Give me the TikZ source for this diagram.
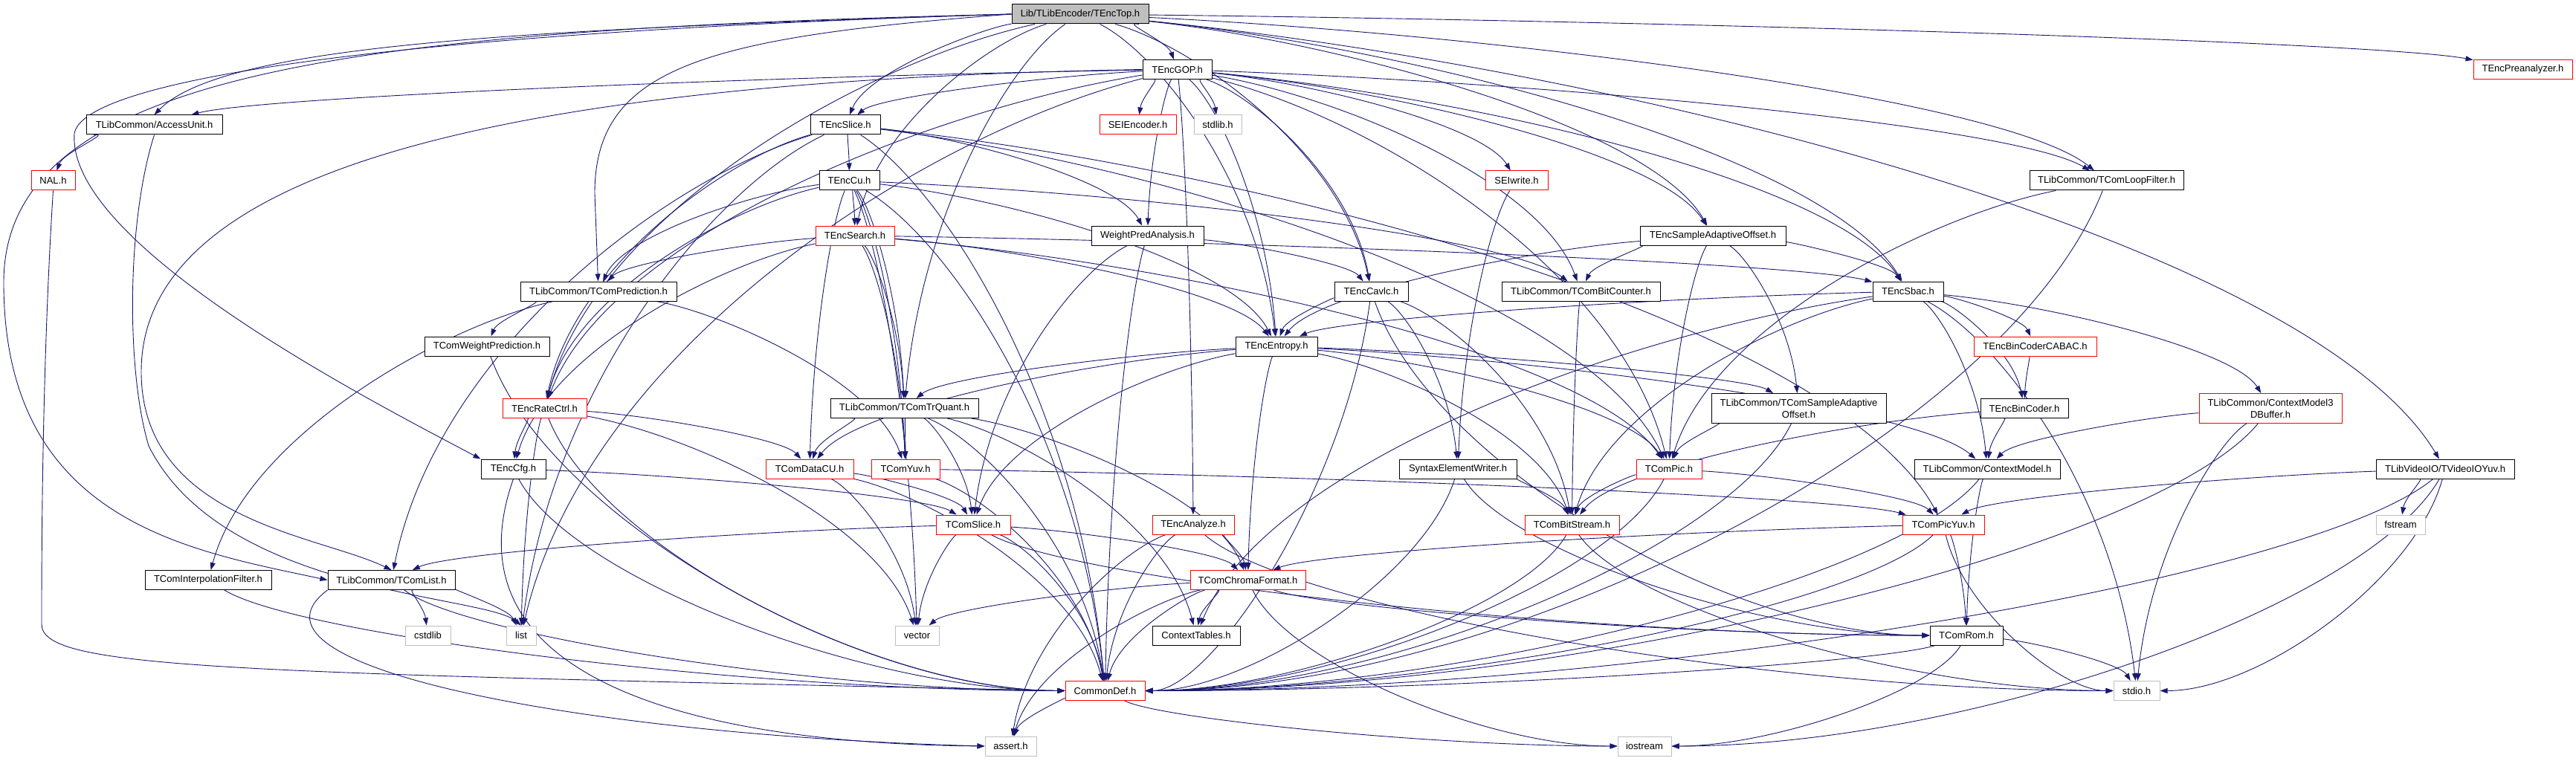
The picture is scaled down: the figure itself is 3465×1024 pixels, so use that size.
\documentclass[tikz,border=0pt]{standalone}
\usepackage{fontspec}
\setmainfont{Liberation Sans}
\usetikzlibrary{arrows.meta,calc}
\definecolor{edgecol}{HTML}{191970}
\definecolor{sysgray}{HTML}{BFBFBF}
\definecolor{topfill}{HTML}{BFBFBF}
\pgfdeclarelayer{bg}
\pgfsetlayers{bg,main}
\newcommand\ed[2]{\draw[edge] let \p1=(#1), \p2=(#2) in (#1) .. controls ({\x1+0.4*(\x2-\x1)},{\y1+0.12*(\y2-\y1)}) and ({\x2-0.1*(\x2-\x1)},{\y2-0.5*(\y2-\y1)}) .. (#2);}
\newcommand\eds[2]{\draw[edge] let \p1=(#1), \p2=(#2) in (#1) .. controls ({\x1+0.1*(\x2-\x1)},{\y1+0.5*(\y2-\y1)}) and ({\x2-0.4*(\x2-\x1)},{\y2}) .. (#2);}
\begin{document}
\begin{tikzpicture}[x=1pt,y=-1pt,
  nd/.style={draw=black, fill=white, line width=1pt, minimum height=26pt, inner sep=0pt, font=\fontsize{13}{16}\selectfont, text=black},
  rednd/.style={nd, draw=red},
  sysnd/.style={nd, draw=sysgray},
  topnd/.style={nd, fill=topfill},
  two/.style={minimum height=40pt, align=center},
  edge/.style={draw=edgecol, line width=0.9pt, -{Triangle[length=10pt,width=7pt]}}]
\useasboundingbox (0,0) rectangle (3465,1024);
% rows
\def\rA{19}\def\rB{93.5}\def\rC{168}\def\rD{243}\def\rE{317}\def\rF{392}\def\rG{466}
\def\rH{549.5}\def\rI{631}\def\rJ{706}\def\rK{780.5}\def\rL{855}\def\rM{929.5}\def\rN{1004}
\node[topnd, minimum width=184pt] (top) at (1453,\rA) {Lib/TLibEncoder/TEncTop.h};
\node[nd, minimum width=93pt] (gop) at (1583.5,\rB) {TEncGOP.h};
\node[rednd, minimum width=133pt] (prean) at (3393.5,\rB) {TEncPreanalyzer.h};
\node[nd, minimum width=183pt] (acc) at (207.5,\rC) {TLibCommon/AccessUnit.h};
\node[nd, minimum width=94pt] (slice) at (1137,\rC) {TEncSlice.h};
\node[rednd, minimum width=103pt] (seienc) at (1530.5,\rC) {SEIEncoder.h};
\node[sysnd, minimum width=64pt] (stdlib) at (1638,\rC) {stdlib.h};
\node[rednd, minimum width=59pt] (nal) at (71.5,\rD) {NAL.h};
\node[nd, minimum width=81pt] (cu) at (1142.5,\rD) {TEncCu.h};
\node[rednd, minimum width=84pt] (seiw) at (2040,\rD) {SEIwrite.h};
\node[nd, minimum width=207pt] (loop) at (2833.5,\rD) {TLibCommon/TComLoopFilter.h};
\node[rednd, minimum width=106pt] (search) at (1150,\rE) {TEncSearch.h};
\node[nd, minimum width=151pt] (wpa) at (1543.5,\rE) {WeightPredAnalysis.h};
\node[nd, minimum width=196pt] (sao) at (2304,\rE) {TEncSampleAdaptiveOffset.h};
\node[nd, minimum width=210pt] (pred) at (805,\rF) {TLibCommon/TComPrediction.h};
\node[nd, minimum width=99pt] (cavlc) at (1844.5,\rF) {TEncCavlc.h};
\node[nd, minimum width=213pt] (bitcnt) at (2126.5,\rF) {TLibCommon/TComBitCounter.h};
\node[nd, minimum width=95pt] (sbac) at (2566.5,\rF) {TEncSbac.h};
\node[nd, minimum width=168pt] (wp) at (655,\rG) {TComWeightPrediction.h};
\node[nd, minimum width=110pt] (entropy) at (1717,\rG) {TEncEntropy.h};
\node[rednd, minimum width=165pt] (bincabac) at (2737.5,\rG) {TEncBinCoderCABAC.h};
\node[rednd, minimum width=113pt] (rc) at (732.5,\rH) {TEncRateCtrl.h};
\node[nd, minimum width=199pt] (trq) at (1216.5,\rH) {TLibCommon/TComTrQuant.h};
\node[nd, two, minimum width=235pt] (tsao) at (2419.5,\rH) {TLibCommon/TComSampleAdaptive\\Offset.h};
\node[nd, minimum width=118pt] (bincoder) at (2723,\rH) {TEncBinCoder.h};
\node[rednd, two, minimum width=192pt] (ctxm3d) at (3054,\rH) {TLibCommon/ContextModel3\\DBuffer.h};
\node[nd, minimum width=87pt] (cfg) at (690.5,\rI) {TEncCfg.h};
\node[rednd, minimum width=118pt] (dcu) at (1089,\rI) {TComDataCU.h};
\node[rednd, minimum width=92pt] (yuv) at (1218,\rI) {TComYuv.h};
\node[nd, minimum width=158pt] (syntax) at (1961,\rI) {SyntaxElementWriter.h};
\node[rednd, minimum width=88pt] (pic) at (2245,\rI) {TComPic.h};
\node[nd, minimum width=196pt] (ctxmodel) at (2673,\rI) {TLibCommon/ContextModel.h};
\node[nd, minimum width=186pt] (yuvio) at (3289,\rI) {TLibVideoIO/TVideoIOYuv.h};
\node[rednd, minimum width=100pt] (slicec) at (1309,\rJ) {TComSlice.h};
\node[rednd, minimum width=110pt] (analyze) at (1605,\rJ) {TEncAnalyze.h};
\node[rednd, minimum width=127pt] (bitstream) at (2114.5,\rJ) {TComBitStream.h};
\node[rednd, minimum width=110pt] (picyuv) at (2614,\rJ) {TComPicYuv.h};
\node[sysnd, minimum width=66pt] (fstream) at (3229,\rJ) {fstream};
\node[nd, minimum width=170pt] (interp) at (280,\rK) {TComInterpolationFilter.h};
\node[nd, minimum width=171pt] (tlist) at (526.5,\rK) {TLibCommon/TComList.h};
\node[rednd, minimum width=155pt] (chroma) at (1678.5,\rK) {TComChromaFormat.h};
\node[sysnd, minimum width=61pt] (cstdlib) at (575.5,\rL) {cstdlib};
\node[sysnd, minimum width=40pt] (list) at (701,\rL) {list};
\node[sysnd, minimum width=59pt] (vector) at (1233.5,\rL) {vector};
\node[nd, minimum width=118pt] (ctxtables) at (1609,\rL) {ContextTables.h};
\node[nd, minimum width=98pt] (rom) at (2645,\rL) {TComRom.h};
\node[rednd, minimum width=107pt] (cdef) at (1486.5,\rM) {CommonDef.h};
\node[sysnd, minimum width=62pt] (stdio) at (2874,\rM) {stdio.h};
\node[sysnd, minimum width=69pt] (assert) at (1359.5,\rN) {assert.h};
\node[sysnd, minimum width=72pt] (iostream) at (2212,\rN) {iostream};
\begin{pgfonlayer}{bg}
% hand-routed long edges
\draw[edge] (top.west) .. controls (500,40) and (5,90) .. (5,380) .. controls (5,700) and (250,740) .. (tlist.west);
\draw[edge] (top.west) .. controls (500,45) and (110,110) .. (100,180) .. controls (90,330) and (500,540) .. (cfg.north west);
\draw[edge] (top.west) .. controls (700,40) and (300,60) .. (acc.north);
\draw[edge] (top.west) .. controls (950,50) and (800,90) .. (800,260) -- (pred);
\draw[edge] (nal.south) .. controls (56,500) and (56,760) .. (56,840) .. controls (56,900) and (300,905) .. (cdef.west);
\draw[edge] (tlist.south west) .. controls (300,900) and (800,990) .. (assert.west);
\draw[edge] (cfg.south) .. controls (600,900) and (900,1000) .. (assert.west);
\draw[edge] (gop.west) .. controls (600,110) and (190,250) .. (190,500) .. controls (190,700) and (430,720) .. (tlist.north);
\draw[edge] (acc.south) .. controls (170,300) and (170,500) .. (200,600) .. controls (300,800) and (650,800) .. (list.north);
% side-entry edges
\foreach \a/\b in {rc/cdef,tlist/cdef,interp/cdef,wp/cdef,cfg/cdef,yuvio/cdef,ctxm3d/cdef,ctxmodel/cdef,rom/cdef,tsao/cdef,
 pic/cdef,bitstream/cdef,picyuv/cdef,syntax/cdef,cavlc/cdef,loop/cdef,
 cdef/iostream,rom/iostream,chroma/iostream,yuvio/iostream,
 bitstream/stdio,picyuv/stdio,yuvio/stdio,slicec/rom,chroma/rom,cavlc/rom,syntax/rom,analyze/stdio}
  {\eds{\a}{\b}}
% generic curved edges
\foreach \a/\b in {top/rc,top/trq,top/gop,top/slice,top/search,top/entropy,top/cavlc,top/sao,top/sbac,top/loop,top/yuvio,top/prean,
 gop/acc,gop/list,gop/rc,gop/slice,gop/seienc,gop/stdlib,gop/seiw,gop/analyze,gop/entropy,gop/cavlc,gop/bitcnt,gop/pic,gop/sao,gop/sbac,gop/loop,gop/wpa,
 acc/nal,
 slice/rc,slice/tlist,slice/cdef,slice/list,slice/cu,slice/wpa,slice/pic,slice/picyuv,
 cu/rc,cu/pred,cu/dcu,cu/vector,cu/yuv,cu/search,cu/trq,cu/bitcnt,cu/entropy,cu/cdef,
 search/pred,search/cfg,search/yuv,search/trq,search/pic,search/entropy,search/sbac,
 pred/interp,pred/wp,pred/yuv,
 rc/cfg,rc/list,rc/vector,rc/dcu,
 trq/dcu,trq/yuv,trq/cdef,trq/slicec,trq/ctxtables,trq/chroma,
 cfg/slicec,dcu/slicec,dcu/vector,dcu/cdef,yuv/cdef,yuv/picyuv,
 slicec/tlist,slicec/vector,slicec/cdef,slicec/chroma,
 tlist/cstdlib,tlist/list,
 analyze/chroma,analyze/cdef,analyze/assert,
 chroma/ctxtables,chroma/cdef,chroma/assert,chroma/vector,
 cdef/assert,rom/stdio,
 entropy/trq,entropy/dcu,entropy/slicec,entropy/chroma,entropy/pic,entropy/bitstream,entropy/ctxmodel,entropy/tsao,
 cavlc/entropy,cavlc/syntax,cavlc/bitstream,
 syntax/bitstream,
 sbac/entropy,sbac/bitstream,sbac/bincoder,sbac/bincabac,sbac/ctxm3d,sbac/stdio,sbac/ctxtables,sbac/ctxmodel,
 sao/bitcnt,sao/entropy,sao/sbac,sao/pic,sao/tsao,bitcnt/bitstream,seiw/syntax,
 wpa/slicec,wpa/cavlc,wpa/cdef,pic/bitstream,pic/picyuv,
 picyuv/chroma,picyuv/rom,tsao/pic,ctxmodel/rom,
 bincoder/ctxmodel,bincoder/bitstream,bincabac/bincoder,ctxm3d/ctxmodel,ctxm3d/stdio,
 loop/pic,yuvio/fstream,yuvio/picyuv}
  {\ed{\a}{\b}}
\end{pgfonlayer}
\end{tikzpicture}
\end{document}
